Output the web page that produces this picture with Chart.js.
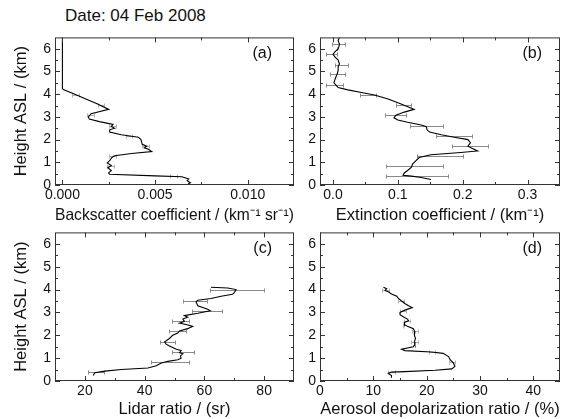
<!DOCTYPE html>
<html>
<head>
<meta charset="utf-8">
<script src="https://cdn.jsdelivr.net/npm/chart.js@4.4.1/dist/chart.umd.min.js"></script>
<style>
  body { margin: 0; background: #fff; width: 565px; height: 419px; position: relative; overflow: hidden; font-family: "Liberation Sans", Arial, sans-serif; }
  canvas { position: absolute; }
  #title { position: absolute; left: 65px; top: 6px; font-size: 17px; color: #111; white-space: nowrap; }
</style>
</head>
<body>
<div id="title">Date: 04 Feb 2008</div>
<canvas id="panelA" width="300" height="200" style="left:0;top:25px"></canvas>
<canvas id="panelB" width="265" height="200" style="left:300px;top:25px"></canvas>
<canvas id="panelC" width="300" height="199" style="left:0;top:220px"></canvas>
<canvas id="panelD" width="265" height="199" style="left:300px;top:220px"></canvas>
<script>
// Datos (altura en km, valor del perfil)
const heightTicks = [0, 1, 2, 3, 4, 5, 6];
const bscTicks = [0, 0.005, 0.010];
const extTicks = [0, 0.1, 0.2, 0.3];
const lrTicks = [20, 40, 60, 80];
const depTicks = [0, 10, 20, 30, 40];

// (a) retrodispersión
const bscHeight = [6.5, 4.25, 4.2, 4.0, 3.57, 3.33, 3.14, 3.0, 2.9, 2.79, 2.67, 2.57, 2.5, 2.43, 2.33, 2.21, 2.1, 2.0, 1.79, 1.71,
  1.64, 1.57, 1.47, 1.39, 1.29, 1.21, 1.07, 0.97, 0.86, 0.76, 0.64, 0.53, 0.47, 0.40, 0.36, 0.26, 0.19, 0.10, 0.04];
const bscValue = [0, 0, 0.00005, 0.00067, 0.0019, 0.0025, 0.00155, 0.0014, 0.00145, 0.002, 0.00273, 0.00264, 0.00282, 0.00255, 0.00255,
  0.00318, 0.0041, 0.00424, 0.00431, 0.00455, 0.00442, 0.00464, 0.00482, 0.00373, 0.00282, 0.00267, 0.00255, 0.00242, 0.00264,
  0.00245, 0.00264, 0.00249, 0.00255, 0.005, 0.00645, 0.00682, 0.00673, 0.00691, 0.00678];

// (b) extinción
const extHeight = [6.5, 6.36, 6.21, 6.07, 6.0, 5.86, 5.76, 5.64, 5.5, 5.33, 5.21, 5.07, 4.93, 4.79, 4.64, 4.5, 4.39, 4.29, 4.19, 4.07,
  3.96, 3.79, 3.57, 3.39, 3.33, 3.21, 3.07, 2.96, 2.86, 2.76, 2.64, 2.57, 2.43, 2.33, 2.21, 2.1, 2.0, 1.86, 1.71, 1.61,
  1.5, 1.43, 1.33, 1.21, 1.07, 0.93, 0.79, 0.64, 0.53, 0.43, 0.39, 0.33, 0.24];
const extValue = [0.010, 0.008, 0.010, 0.009, 0.008, 0.003, 0.0, 0.003, 0.008, 0.010, 0.008, 0.008, 0.007, 0.005, 0.003, 0.0015, 0.005, 0.008, 0.023, 0.044,
  0.064, 0.085, 0.105, 0.120, 0.125, 0.110, 0.097, 0.094, 0.100, 0.115, 0.136, 0.144, 0.145, 0.149, 0.167, 0.187, 0.208, 0.212, 0.208, 0.215,
  0.223, 0.197, 0.151, 0.133, 0.128, 0.123, 0.121, 0.115, 0.110, 0.108, 0.121, 0.136, 0.151];

// (c) razón lidar
const lrHeight = [4.1, 4.07, 4.0, 3.86, 3.79, 3.71, 3.61, 3.53, 3.47, 3.29, 3.14, 3.07, 2.96, 2.86, 2.79, 2.71, 2.61, 2.53, 2.47, 2.39,
  2.29, 2.19, 2.1, 2.0, 1.86, 1.71, 1.61, 1.53, 1.47, 1.39, 1.33, 1.24, 1.19, 1.1, 1.0, 0.93, 0.86, 0.79, 0.67, 0.57,
  0.5, 0.43, 0.36, 0.24];
const lrValue = [62.2, 67.8, 70.6, 70, 69.4, 65.6, 62.2, 57.8, 57.2, 57.8, 61.1, 62, 57.8, 53.3, 54.4, 52.8, 53.3, 51.7, 53.9, 56.1,
  54.4, 51.7, 51.1, 49.4, 48.3, 46.7, 47.2, 48.3, 49.4, 50.6, 52.2, 51.7, 52.8, 52, 52.2, 51.1, 47.8, 45.6, 43.9, 41.1,
  32.2, 26.7, 23.3, 22.8];

// (d) despolarización
const depHeight = [4.1, 4.04, 3.96, 3.9, 3.81, 3.71, 3.61, 3.5, 3.39, 3.29, 3.21, 3.1, 3.0, 2.9, 2.81, 2.71, 2.64, 2.57, 2.47, 2.39,
  2.29, 2.14, 2.0, 1.86, 1.71, 1.61, 1.5, 1.39, 1.33, 1.27, 1.21, 1.07, 0.93, 0.79, 0.64, 0.53, 0.47, 0.41, 0.39, 0.33,
  0.24, 0.14];
const depValue = [11.9, 12.5, 12.2, 12.8, 13.4, 14.4, 14.7, 15.3, 15.9, 16.6, 17.3, 15.9, 15.0, 15.0, 15.6, 16.4, 16.6, 15.9, 15.8, 16.4,
  17.5, 17.8, 17.7, 17.9, 17.7, 17.8, 17.5, 15.3, 15.9, 20.9, 23.1, 24.1, 24.4, 25.0, 25.3, 24.7, 21.6, 15.9, 13.4, 12.8,
  13.4, 13.4];

// Barras de error (altura, extremo izquierdo, extremo derecho)
const errHeight = [3.98, 3.52, 3.07, 2.61, 2.17, 1.71, 1.27, 0.83, 0.38];
const bscErrLo = [0.00052, 0.0019, 0.00132, 0.00252, 0.00342, 0.00432, 0.00252, 0.00242, 0.00582];
const bscErrHi = [0.00088, 0.00226, 0.00168, 0.00288, 0.00378, 0.00468, 0.00288, 0.00278, 0.00618];
const extErrHeight = [6.2, 5.77, 5.3, 4.88, 4.42, 3.98, 3.52, 3.07, 2.61, 2.17, 1.71, 1.27, 0.83, 0.38];
const extErrLo = [-0.001, -0.010, 0.003, -0.004, -0.011, 0.041, 0.097, 0.080, 0.118, 0.159, 0.184, 0.129, 0.081, 0.081];
const extErrHi = [0.018, 0.006, 0.023, 0.018, 0.015, 0.067, 0.121, 0.112, 0.170, 0.214, 0.239, 0.200, 0.170, 0.177];
const lrErrLo = [62, 53, 56, 49, 48, 45, 49, 42, 21];
const lrErrHi = [80, 61, 66, 55, 54, 50, 56.5, 55, 26.5];
const depErrLo = [11.7, 14.6, 15.0, 15.7, 17.2, 17.1, 20.4, 24.2, 12.8];
const depErrHi = [12.9, 15.8, 16.2, 16.9, 18.4, 18.3, 21.6, 25.4, 14.0];

Chart.defaults.font.family = "'Liberation Sans', Arial, sans-serif";
Chart.defaults.color = '#111';

// Marco del gráfico con marcas hacia dentro (mayores y menores)
const frameTicks = {
  id: 'frameTicks',
  afterDatasetsDraw(chart) {
    const { ctx, chartArea: a, scales: { x, y } } = chart;
    ctx.save();
    ctx.strokeStyle = '#333';
    ctx.lineWidth = 1;
    ctx.beginPath();
    const minors = (scale) => {
      const vals = scale.ticks.map(t => t.value);
      const step = vals[1] - vals[0];
      const out = [];
      for (let v = vals[0] - step / 2; v < scale.max; v += step) {
        if (v > scale.min + 1e-9 && v < scale.max - 1e-9) out.push(v);
      }
      return out;
    };
    const xMarks = (vals, len) => vals.forEach(v => {
      const px = Math.round(x.getPixelForValue(v)) + 0.5;
      ctx.moveTo(px, a.bottom); ctx.lineTo(px, a.bottom - len);
      ctx.moveTo(px, a.top); ctx.lineTo(px, a.top + len);
    });
    const yMarks = (vals, len) => vals.forEach(v => {
      const py = Math.round(y.getPixelForValue(v)) + 0.5;
      ctx.moveTo(a.left, py); ctx.lineTo(a.left + len, py);
      ctx.moveTo(a.right, py); ctx.lineTo(a.right - len, py);
    });
    xMarks(x.ticks.map(t => t.value), 5);
    xMarks(minors(x), 3);
    yMarks(y.ticks.map(t => t.value), 5);
    yMarks(minors(y), 3);
    ctx.stroke();
    ctx.strokeRect(a.left + 0.5, a.top + 0.5, a.right - a.left - 1, a.bottom - a.top - 1);
    ctx.restore();
  }
};

// Barras de error horizontales
function errorBars(h, lo, hi, color) {
  return {
    id: 'errorBars',
    beforeDatasetsDraw(chart) {
      const { ctx, scales: { x, y } } = chart;
      ctx.save();
      ctx.strokeStyle = color;
      ctx.lineWidth = 1;
      ctx.beginPath();
      h.forEach((hv, i) => {
        const py = Math.round(y.getPixelForValue(hv)) + 0.5;
        const x0 = Math.round(x.getPixelForValue(lo[i])) + 0.5;
        const x1 = Math.round(x.getPixelForValue(hi[i])) + 0.5;
        ctx.moveTo(x0, py); ctx.lineTo(x1, py);
        ctx.moveTo(x0, py - 2); ctx.lineTo(x0, py + 2);
        ctx.moveTo(x1, py - 2); ctx.lineTo(x1, py + 2);
      });
      ctx.stroke();
      ctx.restore();
    }
  };
}

// Etiqueta del panel, p. ej. "(a)"
function panelLabel(text, dx) {
  return {
    id: 'panelLabel',
    afterDraw(chart) {
      const { ctx, chartArea: a } = chart;
      ctx.save();
      ctx.font = "16px 'Liberation Sans', Arial, sans-serif";
      ctx.fillStyle = '#111';
      ctx.textAlign = 'right';
      ctx.textBaseline = 'middle';
      ctx.fillText(text, a.right - dx, a.top + 16);
      ctx.restore();
    }
  };
}

function makePanel(id, o) {
  return new Chart(document.getElementById(id), {
    type: 'scatter',
    data: {
      datasets: [{
        data: o.h.map((h, i) => ({ x: o.v[i], y: h })),
        showLine: true,
        borderColor: '#000',
        borderWidth: 1.1,
        pointRadius: 0,
        tension: 0
      }]
    },
    options: {
      responsive: false,
      animation: false,
      devicePixelRatio: 1,
      events: [],
      layout: { padding: { left: 0, top: 8, right: o.padRight, bottom: 0 } },
      plugins: { legend: { display: false }, tooltip: { enabled: false } },
      scales: {
        x: {
          type: 'linear',
          min: o.min,
          max: o.max,
          afterBuildTicks: s => { s.ticks = o.ticks.map(v => ({ value: v })); },
          afterFit: s => { s.height = o.xHeight; },
          grid: { display: false, drawTicks: false },
          border: { display: false },
          ticks: { autoSkip: false, maxRotation: 0, padding: 2, font: { size: 14 }, callback: o.fmt },
          title: { display: true, text: o.xTitle, font: { size: 16.5 }, padding: { top: 0, bottom: 0 } }
        },
        y: {
          type: 'linear',
          min: 0,
          max: 6.5,
          afterBuildTicks: s => { s.ticks = heightTicks.map(v => ({ value: v })); },
          afterFit: s => { s.width = o.yWidth; },
          grid: { display: false, drawTicks: false },
          border: { display: false },
          ticks: { autoSkip: false, padding: 4, font: { size: 14 }, callback: v => String(v) },
          title: { display: o.yTitle, text: 'Height ASL / (km)', font: { size: 16.5 }, padding: { top: 12, bottom: 0 } }
        }
      }
    },
    plugins: [errorBars(o.errH, o.errLo, o.errHi, o.errColor), frameTicks, panelLabel(o.label, o.labelDx)]
  });
}

makePanel('panelA', {
  h: bscHeight, v: bscValue, min: -0.0004, max: 0.0125, ticks: bscTicks, fmt: v => v.toFixed(3),
  xTitle: 'Backscatter coefficient / (km⁻¹ sr⁻¹)', yTitle: true, yWidth: 55, padRight: 6, xHeight: 40,
  errH: errHeight, errLo: bscErrLo, errHi: bscErrHi, errColor: '#b0b0b0', label: '(a)', labelDx: 22
});
makePanel('panelB', {
  h: extHeight, v: extValue, min: -0.02, max: 0.35, ticks: extTicks, fmt: v => v.toFixed(1),
  xTitle: 'Extinction coefficient / (km⁻¹)', yTitle: false, yWidth: 20, padRight: 5, xHeight: 40,
  errH: extErrHeight, errLo: extErrLo, errHi: extErrHi, errColor: '#8a8a8a', label: '(b)', labelDx: 18
});
makePanel('panelC', {
  h: lrHeight, v: lrValue, min: 10, max: 90, ticks: lrTicks, fmt: v => String(v),
  xTitle: 'Lidar ratio / (sr)', yTitle: true, yWidth: 55, padRight: 6, xHeight: 38,
  errH: errHeight, errLo: lrErrLo, errHi: lrErrHi, errColor: '#8a8a8a', label: '(c)', labelDx: 22
});
makePanel('panelD', {
  h: depHeight, v: depValue, min: 0, max: 45, ticks: depTicks, fmt: v => String(v),
  xTitle: 'Aerosol depolarization ratio / (%)', yTitle: false, yWidth: 20, padRight: 5, xHeight: 38,
  errH: errHeight, errLo: depErrLo, errHi: depErrHi, errColor: '#b0b0b0', label: '(d)', labelDx: 18
});
</script>
</body>
</html>
